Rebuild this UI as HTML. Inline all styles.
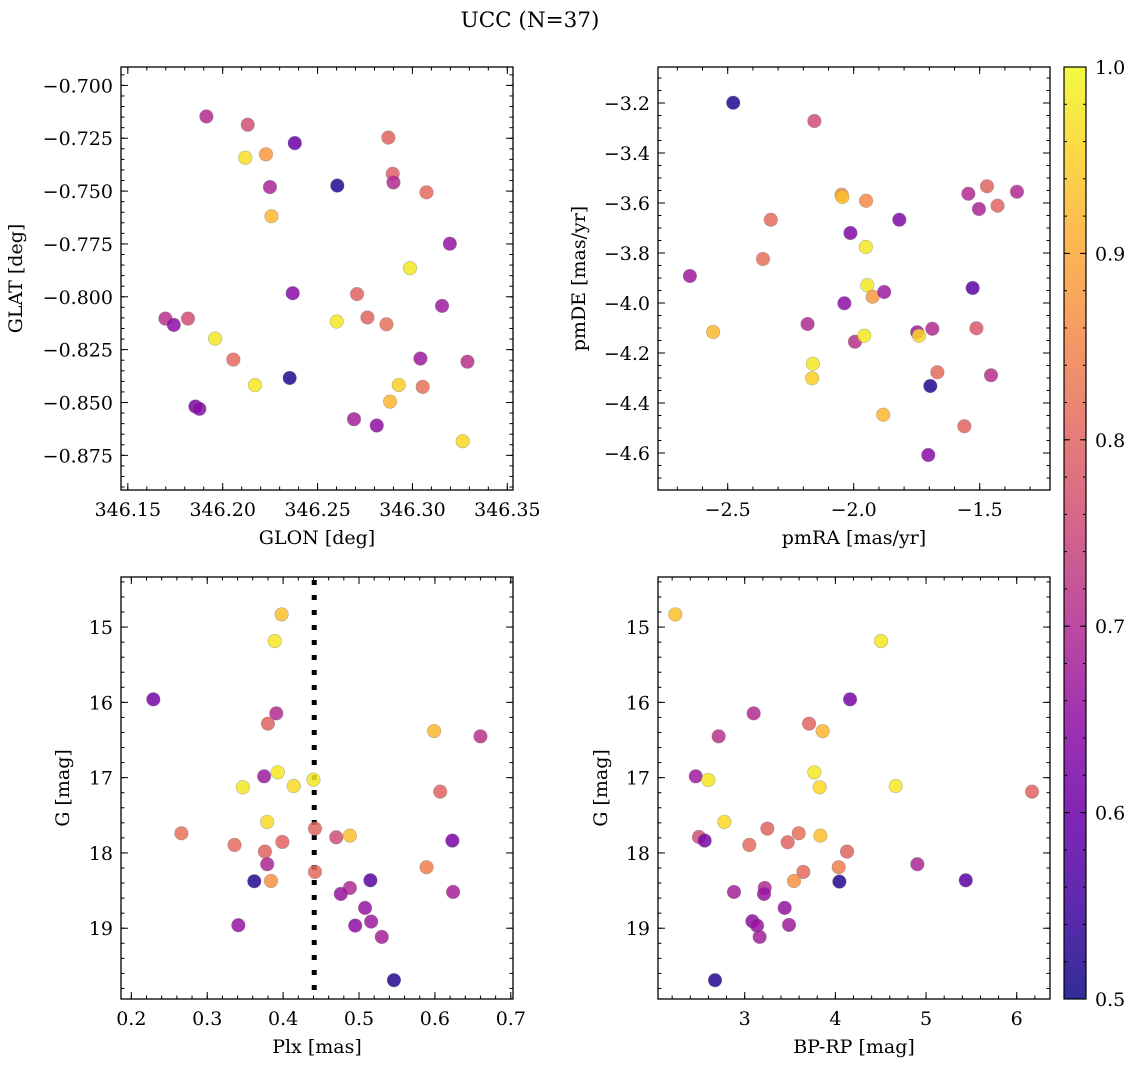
<!DOCTYPE html>
<html><head><meta charset="utf-8"><style>
html,body{margin:0;padding:0;background:#fff;}
svg{display:block;font-family:"DejaVu Serif","Liberation Serif",serif;}
</style></head><body>
<svg id="fig" width="1136" height="1067" viewBox="0 0 1136 1067" xmlns="http://www.w3.org/2000/svg">
<rect x="0" y="0" width="1136" height="1067" fill="#fff"/>
<text x="530" y="27" font-size="21.5" text-anchor="middle">UCC (N=37)</text>
</svg>
<script>
// ---------- data ----------
const glon=[346.1914,346.2132,346.2119,346.2228,346.2380,346.2249,346.2257,346.2604,346.2873,346.2896,346.2900,346.3074,346.3197,346.2987,346.2369,346.2708,346.1698,346.1742,346.1817,346.2601,346.2763,346.2863,346.3156,346.1960,346.2056,346.3042,346.3290,346.2353,346.2170,346.2928,346.3054,346.1856,346.1877,346.2882,346.2692,346.2812,346.3265];
const glat=[-0.7147,-0.7186,-0.7342,-0.7326,-0.7273,-0.7481,-0.7619,-0.7474,-0.7247,-0.7418,-0.7459,-0.7506,-0.7749,-0.7865,-0.7983,-0.7987,-0.8103,-0.8133,-0.8103,-0.8117,-0.8098,-0.8130,-0.8043,-0.8198,-0.8297,-0.8292,-0.8307,-0.8384,-0.8418,-0.8417,-0.8426,-0.8519,-0.8530,-0.8496,-0.8579,-0.8609,-0.8683];
const prob1=[0.70,0.76,0.97,0.88,0.60,0.69,0.92,0.52,0.80,0.79,0.70,0.81,0.66,0.98,0.64,0.80,0.71,0.65,0.76,0.98,0.80,0.82,0.67,0.98,0.81,0.67,0.71,0.52,0.98,0.95,0.82,0.62,0.64,0.92,0.68,0.65,0.96];

const pmra=[-2.478,-2.156,-2.048,-2.045,-1.951,-2.329,-2.013,-1.819,-1.952,-2.360,-2.650,-1.545,-1.471,-1.503,-1.429,-1.352,-1.946,-1.925,-1.879,-1.528,-2.037,-2.558,-2.183,-1.995,-1.958,-1.748,-1.741,-1.688,-1.513,-2.162,-2.165,-1.668,-1.696,-1.455,-1.883,-1.561,-1.704];
const pmde=[-3.199,-3.272,-3.567,-3.576,-3.591,-3.667,-3.720,-3.667,-3.776,-3.824,-3.892,-3.563,-3.533,-3.624,-3.611,-3.555,-3.929,-3.975,-3.956,-3.940,-4.001,-4.116,-4.084,-4.155,-4.131,-4.117,-4.131,-4.103,-4.101,-4.243,-4.301,-4.277,-4.332,-4.289,-4.447,-4.493,-4.608];
const prob2=[0.52,0.76,0.86,0.93,0.86,0.81,0.63,0.63,0.98,0.82,0.67,0.70,0.80,0.69,0.80,0.70,0.98,0.88,0.67,0.58,0.65,0.92,0.70,0.71,0.98,0.67,0.96,0.70,0.78,0.98,0.95,0.81,0.52,0.71,0.92,0.80,0.64];

const plx=[0.398,0.389,0.229,0.391,0.380,0.599,0.660,0.375,0.393,0.347,0.414,0.440,0.607,0.379,0.266,0.442,0.470,0.488,0.623,0.336,0.399,0.376,0.379,0.589,0.442,0.362,0.384,0.515,0.488,0.476,0.624,0.508,0.495,0.516,0.530,0.341,0.546];
const gmag3=[14.832,15.186,15.960,16.146,16.283,16.381,16.451,16.982,16.929,17.128,17.111,17.027,17.186,17.588,17.739,17.677,17.792,17.770,17.836,17.894,17.854,17.982,18.150,18.190,18.252,18.376,18.372,18.363,18.465,18.544,18.518,18.730,18.965,18.912,19.115,18.960,19.690];
const prob3=[0.93,0.98,0.62,0.70,0.80,0.92,0.71,0.67,0.98,0.98,0.96,0.98,0.80,0.96,0.82,0.80,0.76,0.93,0.62,0.81,0.80,0.80,0.69,0.84,0.81,0.52,0.87,0.58,0.70,0.66,0.68,0.66,0.65,0.67,0.68,0.66,0.52];
const plxMedian=[0.441];

const bprp=[2.235,4.504,4.162,3.099,3.710,3.860,2.713,2.460,3.768,2.599,3.827,4.665,6.169,2.776,2.496,2.559,3.250,3.051,3.596,3.474,3.835,4.129,4.904,4.037,3.647,3.544,4.044,5.438,2.882,3.221,3.213,3.441,3.085,3.136,3.489,3.165,2.673];
const gmag4=[14.832,15.186,15.960,16.146,16.283,16.381,16.451,16.982,16.929,17.031,17.128,17.111,17.186,17.588,17.788,17.836,17.677,17.894,17.739,17.858,17.770,17.982,18.150,18.190,18.252,18.372,18.381,18.363,18.518,18.465,18.544,18.730,18.907,18.965,18.956,19.115,19.690];
const prob4=[0.93,0.98,0.62,0.70,0.80,0.92,0.71,0.67,0.98,0.98,0.96,0.98,0.80,0.96,0.76,0.62,0.80,0.81,0.82,0.80,0.93,0.80,0.69,0.84,0.81,0.87,0.52,0.58,0.68,0.70,0.66,0.66,0.65,0.66,0.67,0.68,0.52];

const ticks1x=[346.15,346.20,346.25,346.30,346.35];
const labels1x=["346.15","346.20","346.25","346.30","346.35"];
const ticks1y=[-0.700,-0.725,-0.750,-0.775,-0.800,-0.825,-0.850,-0.875];
const labels1y=["−0.700","−0.725","−0.750","−0.775","−0.800","−0.825","−0.850","−0.875"];
const ticks2x=[-2.5,-2.0,-1.5];
const labels2x=["−2.5","−2.0","−1.5"];
const ticks2y=[-3.2,-3.4,-3.6,-3.8,-4.0,-4.2,-4.4,-4.6];
const labels2y=["−3.2","−3.4","−3.6","−3.8","−4.0","−4.2","−4.4","−4.6"];
const ticks3x=[0.2,0.3,0.4,0.5,0.6,0.7];
const labels3x=["0.2","0.3","0.4","0.5","0.6","0.7"];
const ticksGy=[15,16,17,18,19];
const labelsGy=["15","16","17","18","19"];
const ticks4x=[3,4,5,6];
const labels4x=["3","4","5","6"];
const ticksCb=[0.5,0.6,0.7,0.8,0.9,1.0];
const labelsCb=["0.5","0.6","0.7","0.8","0.9","1.0"];

// ---------- helpers ----------
const NS="http://www.w3.org/2000/svg";
const svg=document.getElementById('fig');
const TF=19, LF=19;
function el(tag,attrs,parent){const e=document.createElementNS(NS,tag);for(const k in attrs)e.setAttribute(k,attrs[k]);(parent||svg).appendChild(e);return e;}
const plasmaStops=["#0d0887","#41049d","#6a00a8","#8f0da4","#b12a90","#cc4778","#e16462","#f2844b","#fca636","#fcce25","#f0f921"];
function hex(h){return [parseInt(h.substr(1,2),16),parseInt(h.substr(3,2),16),parseInt(h.substr(5,2),16)];}
function plasma(t){t=Math.max(0,Math.min(1,t));const f=t*10;const i=Math.min(9,Math.floor(f));const u=f-i;const a=hex(plasmaStops[i]),b=hex(plasmaStops[i+1]);return `rgb(${Math.round(a[0]+(b[0]-a[0])*u)},${Math.round(a[1]+(b[1]-a[1])*u)},${Math.round(a[2]+(b[2]-a[2])*u)})`;}
function norm(p){return (p-0.5)/0.5;}
function lin(d0,d1,r0,r1){return v=>r0+(v-d0)/(d1-d0)*(r1-r0);}

function panel(name,box,xd,yd,xt,xl,xminStep,yt,yl,yminStep,xlabel,ylabel,ylabX){
  const g=el('g',{},svg);
  
  
  const sx=lin(xd[0],xd[1],box.x0,box.x1), sy=lin(yd[0],yd[1],box.y0,box.y1);
  const tg=el('g',{stroke:'#000','stroke-width':1},g);
  
  
  const xlo=Math.min(xd[0],xd[1]),xhi=Math.max(xd[0],xd[1]);
  const ylo=Math.min(yd[0],yd[1]),yhi=Math.max(yd[0],yd[1]);
  for(let v=Math.ceil(xlo/xminStep-1e-6)*xminStep;v<=xhi+1e-9;v+=xminStep){const X=sx(v);el('line',{x1:X,x2:X,y1:box.y1,y2:box.y1-3.5},tg);el('line',{x1:X,x2:X,y1:box.y0,y2:box.y0+3.5},tg);}
  for(let v=Math.ceil(ylo/yminStep-1e-6)*yminStep;v<=yhi+1e-9;v+=yminStep){const Y=sy(v);el('line',{x1:box.x0,x2:box.x0+3.5,y1:Y,y2:Y},tg);el('line',{x1:box.x1,x2:box.x1-3.5,y1:Y,y2:Y},tg);}
  xt.forEach((v,i)=>{const X=sx(v);el('line',{x1:X,x2:X,y1:box.y1,y2:box.y1-7},tg);el('line',{x1:X,x2:X,y1:box.y0,y2:box.y0+7},tg);
    const t=el('text',{x:X,y:box.y1+26,'font-size':TF,'text-anchor':'middle'},g);t.textContent=xl[i];
    
    });
  yt.forEach((v,i)=>{const Y=sy(v);el('line',{x1:box.x0,x2:box.x0+7,y1:Y,y2:Y},tg);el('line',{x1:box.x1,x2:box.x1-7,y1:Y,y2:Y},tg);
    const t=el('text',{x:box.x0-8,y:Y+7,'font-size':TF,'text-anchor':'end'},g);t.textContent=yl[i];
    
    });
  const xt2=el('text',{x:(box.x0+box.x1)/2,y:box.y1+54,'font-size':LF,'text-anchor':'middle'},g);xt2.textContent=xlabel;
  
  
  const cy=(box.y0+box.y1)/2;
  const yt2=el('text',{x:ylabX,y:cy,'font-size':LF,'text-anchor':'middle',transform:`rotate(-90 ${ylabX} ${cy})`},g);yt2.textContent=ylabel;
  
  
  const frame=el('rect',{x:box.x0,y:box.y0,width:box.x1-box.x0,height:box.y1-box.y0,fill:'none',stroke:'#000','stroke-width':1.3},g);
  
  
  return {g,sx,sy};
}
function scatter(P,xs,ys,ps){
  ps.forEach((p,i)=>{
    const c=el('circle',{cx:P.sx(xs[i]),cy:P.sy(ys[i]),r:6.8,fill:plasma(norm(ps[i])),'fill-opacity':0.85,stroke:'#777','stroke-opacity':0.5,'stroke-width':0.6},P.g);
    
    
  });
}

// ---------- panels ----------
const P1=panel('glon-glat-panel',{x0:121,x1:513,y0:67,y1:490},[346.1464,346.3530],[-0.6913,-0.8914],ticks1x,labels1x,0.01,ticks1y,labels1y,0.005,'GLON [deg]','GLAT [deg]',22);
scatter(P1,glon,glat,prob1);
const P2=panel('pm-panel',{x0:658,x1:1050,y0:67,y1:490},[-2.7766,-1.221],[-3.056,-4.748],ticks2x,labels2x,0.1,ticks2y,labels2y,0.05,'pmRA [mas/yr]','pmDE [mas/yr]',585);
scatter(P2,pmra,pmde,prob2);
const P3=panel('plx-g-panel',{x0:121,x1:513,y0:577,y1:999},[0.1864,0.7029],[14.335,19.94],ticks3x,labels3x,0.02,ticksGy,labelsGy,0.2,'Plx [mas]','G [mag]',69);
const ml=el('line',{x1:P3.sx(plxMedian[0]),x2:P3.sx(plxMedian[0]),y1:578,y2:999,stroke:'#000','stroke-width':5,'stroke-dasharray':'5 10','stroke-dashoffset':'-2'},P3.g);


scatter(P3,plx,gmag3,prob3);
const P4=panel('cmd-panel',{x0:658,x1:1050,y0:577,y1:999},[2.044,6.367],[14.335,19.94],ticks4x,labels4x,0.2,ticksGy,labelsGy,0.2,'BP-RP [mag]','G [mag]',607);
scatter(P4,bprp,gmag4,prob4);

// ---------- colorbar ----------
const cb=el('g',{},svg);


const defs=el('defs',{},svg);
const grad=el('linearGradient',{id:'cbg',x1:0,y1:1,x2:0,y2:0},defs);
for(let i=0;i<=20;i++){const t=i/20;el('stop',{offset:t,'stop-color':plasma(t),'stop-opacity':0.85},grad);}
el('rect',{x:1064,y:67,width:22,height:932,fill:'url(#cbg)',stroke:'#000','stroke-width':1.2},cb);
const cs=lin(0.5,1.0,999,67);
ticksCb.forEach((v,i)=>{const Y=cs(v);el('line',{x1:1086,x2:1080,y1:Y,y2:Y,stroke:'#000'},cb);el('line',{x1:1064,x2:1070,y1:Y,y2:Y,stroke:'#000'},cb);
  const t=el('text',{x:1095,y:Y+7,'font-size':TF},cb);t.textContent=labelsCb[i];
  
  });
for(let v=0.52;v<1.0;v+=0.02){const Y=cs(v);el('line',{x1:1086,x2:1083,y1:Y,y2:Y,stroke:'#000'},cb);el('line',{x1:1064,x2:1067,y1:Y,y2:Y,stroke:'#000'},cb);}
</script>
</body></html>
